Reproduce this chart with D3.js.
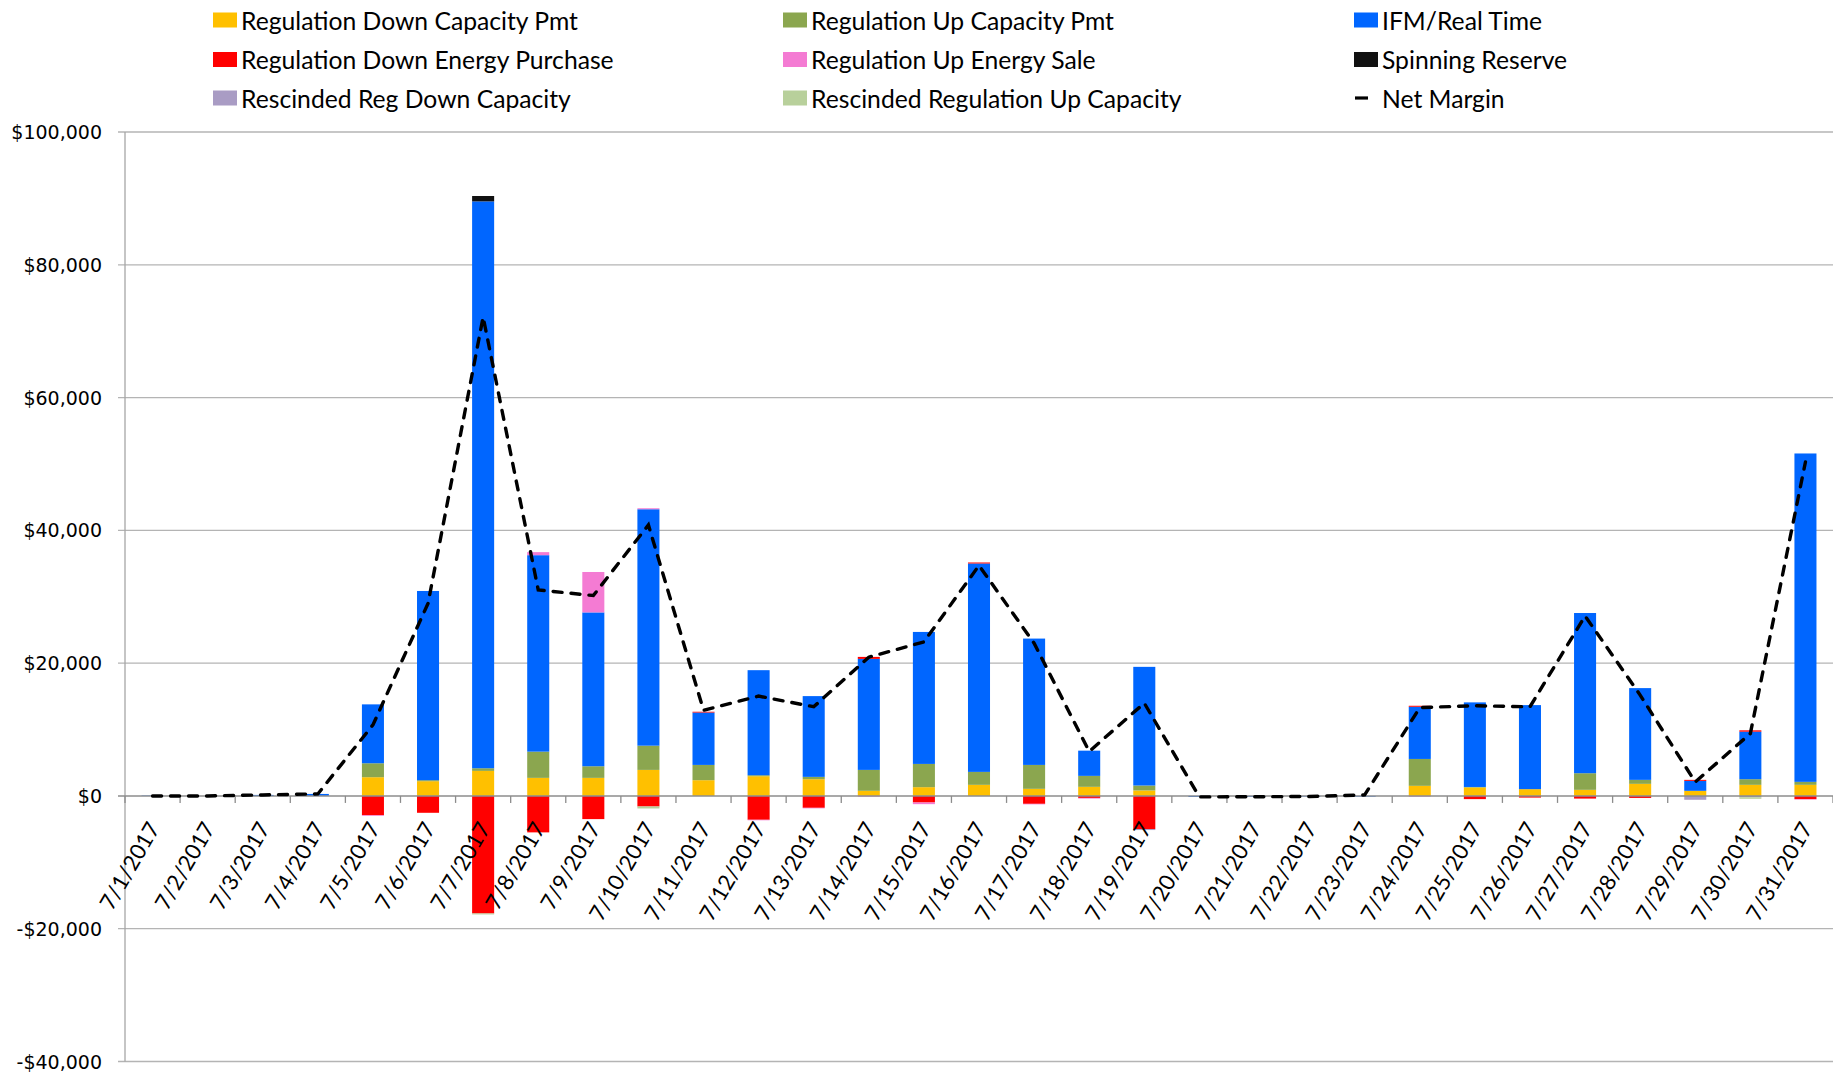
<!DOCTYPE html>
<html>
<head>
<meta charset="utf-8">
<script src="https://cdn.jsdelivr.net/npm/d3@7"></script>
<style>
  html, body { margin: 0; padding: 0; background: #ffffff; }
  svg { display: block; }
</style>
</head>
<body>
<script>
// Daily margin components for July 2017 (dollars)
const days = ["7/1/2017","7/2/2017","7/3/2017","7/4/2017","7/5/2017","7/6/2017","7/7/2017","7/8/2017",
  "7/9/2017","7/10/2017","7/11/2017","7/12/2017","7/13/2017","7/14/2017","7/15/2017","7/16/2017",
  "7/17/2017","7/18/2017","7/19/2017","7/20/2017","7/21/2017","7/22/2017","7/23/2017","7/24/2017",
  "7/25/2017","7/26/2017","7/27/2017","7/28/2017","7/29/2017","7/30/2017","7/31/2017"];

const regDownCapacity = [0, 0, 0, 0, 2820, 2220, 3770, 2720, 2720, 3920, 2370, 2970, 2520, 770, 1320, 1670,
  1070, 1370, 820, 0, 0, 0, 0, 1520, 1270, 1020, 920, 1820, 770, 1670, 1670];
const regUpCapacity = [0, 0, 0, 0, 2100, 150, 400, 3950, 1750, 3650, 2300, 150, 350, 3150, 3500, 1950,
  3600, 1650, 750, 0, 0, 0, 0, 4050, 80, 0, 2500, 600, 0, 850, 450];
const ifmRealTime = [60, 0, 150, 300, 8870, 28500, 85380, 29590, 23170, 35610, 7890, 15820, 12165, 16720, 19880, 31390,
  19030, 3800, 17870, -150, -120, -80, -100, 7860, 12740, 12660, 24130, 13820, 1500, 7160, 49460];
const regDownEnergy = [0, 0, 0, 0, -2900, -2540, -17700, -5490, -3490, -1590, 120, -3590, -1790, 300, -990, 150,
  -1190, -300, -4990, 0, 0, 0, 0, 150, -480, -250, -400, -300, 150, 200, -480];
const regUpEnergy = [0, 0, 0, 0, -100, 0, 0, 460, 6090, 150, 0, -80, -80, -100, -250, 0,
  -80, -100, 0, 0, 0, 0, 0, -100, 0, 0, 0, 0, 0, 0, -70];
const spinningReserve = [0, 0, 0, 0, 0, 0, 810, 0, 0, 0, 0, 0, 0, 0, 0, 0,
  0, 0, 0, 0, 0, 0, 0, 0, 0, 0, 0, 0, 0, 0, 0];
const rescindedRegDown = [0, 0, 0, 0, 0, 0, 0, 0, 0, 0, 0, 0, 0, 0, 0, 0,
  0, 0, -150, 0, 0, 0, 0, 0, 0, 0, 0, 0, -580, -200, 0];
const rescindedRegUp = [0, 0, 0, 0, 0, 0, -150, 0, 0, -300, 0, 0, 0, 0, 0, 0,
  0, 0, 0, 0, 0, 0, 0, 0, 0, 0, 0, 0, 0, -230, 0];
const netMargin = [0, 0, 150, 300, 10700, 29000, 72130, 31030, 30180, 40810, 12900, 15035, 13430, 20900, 23200, 34710,
  23000, 6700, 13980, -150, -120, -80, 150, 13300, 13580, 13430, 27100, 15190, 2100, 9400, 50300];

const yTicks = [-40000, -20000, 0, 20000, 40000, 60000, 80000, 100000];

const seriesNames = ["Regulation Down Capacity Pmt", "Regulation Up Capacity Pmt", "IFM/Real Time",
  "Regulation Down Energy Purchase", "Regulation Up Energy Sale", "Spinning Reserve",
  "Rescinded Reg Down Capacity", "Rescinded Regulation Up Capacity"];
const seriesValues = [regDownCapacity, regUpCapacity, ifmRealTime, regDownEnergy, regUpEnergy,
  spinningReserve, rescindedRegDown, rescindedRegUp];
const seriesColors = ["#FFC000", "#8BA64F", "#0066FF", "#FF0000", "#F47BD3", "#111111", "#A99CC4", "#B8D09B"];
const lineName = "Net Margin";

// Row table for the stack layout
const rows = days.map((d, i) => {
  const r = { day: d };
  seriesNames.forEach((n, k) => { r[n] = seriesValues[k][i]; });
  return r;
});

const W = 1833, H = 1074;
const plotLeft = 125, plotRight = 1833, plotTop = 132, plotBottom = 1061.5;

const svg = d3.select("body").append("svg").attr("width", W).attr("height", H);

const x = d3.scaleBand().domain(days).range([plotLeft, plotRight]).paddingInner(0.6).paddingOuter(0.3);
const y = d3.scaleLinear().domain([-40000, 100000]).range([plotBottom, plotTop]);
const fmt = v => (v < 0 ? "-$" : "$") + d3.format(",")(Math.abs(v));

// Horizontal gridlines with outside tick marks
const grid = svg.append("g");
grid.selectAll("line.grid").data(yTicks.filter(t => t !== 0)).join("line")
  .attr("class", "grid")
  .attr("x1", plotLeft - 7).attr("x2", plotRight)
  .attr("y1", d => y(d)).attr("y2", d => y(d))
  .attr("stroke", "#B4B4B4").attr("stroke-width", 1.3);

// Vertical value axis
svg.append("line")
  .attr("x1", plotLeft).attr("x2", plotLeft)
  .attr("y1", plotTop).attr("y2", plotBottom)
  .attr("stroke", "#A6A6A6").attr("stroke-width", 1.3);

// Value axis labels
svg.append("g").selectAll("text").data(yTicks).join("text")
  .attr("x", 102).attr("y", d => y(d))
  .attr("text-anchor", "end").attr("dominant-baseline", "central")
  .attr("font-family", "'DejaVu Sans', Verdana, sans-serif").attr("font-size", 19)
  .attr("fill", "#000")
  .text(fmt);

// Stacked bars: positives build up from zero, negatives build down
const stack = d3.stack().keys(seriesNames).offset(d3.stackOffsetDiverging);
const stacked = stack(rows);

svg.append("g").selectAll("g").data(stacked).join("g")
  .attr("fill", (d, i) => seriesColors[i])
  .selectAll("rect").data(d => d).join("rect")
  .attr("x", d => x(d.data.day))
  .attr("width", x.bandwidth())
  .attr("y", d => y(Math.max(d[0], d[1])))
  .attr("height", d => Math.abs(y(d[0]) - y(d[1])));

// Category axis at zero with ticks at band boundaries
const y0 = y(0);
svg.append("line")
  .attr("x1", plotLeft - 7).attr("x2", plotRight)
  .attr("y1", y0).attr("y2", y0)
  .attr("stroke", "#8C8C8C").attr("stroke-width", 1.5);

const step = x.step();
const tickXs = d3.range(days.length + 1).map(i => plotLeft + i * step);
svg.append("g").selectAll("line").data(tickXs).join("line")
  .attr("x1", d => d).attr("x2", d => d)
  .attr("y1", y0).attr("y2", y0 + 7)
  .attr("stroke", "#8C8C8C").attr("stroke-width", 1.3);

// Rotated date labels
svg.append("g").selectAll("text").data(days).join("text")
  .attr("transform", d => `translate(${x(d) + x.bandwidth() / 2 + 8},${y0 + 32}) rotate(-60)`)
  .attr("text-anchor", "end")
  .attr("font-family", "Lato, 'Open Sans', sans-serif").attr("font-size", 22)
  .attr("fill", "#000")
  .text(d => d);

// Net margin dashed line through band centres
const line = d3.line()
  .x((d, i) => x(days[i]) + x.bandwidth() / 2)
  .y(d => y(d));
svg.append("path")
  .datum(netMargin)
  .attr("d", line)
  .attr("fill", "none")
  .attr("stroke", "#000")
  .attr("stroke-width", 3.4)
  .attr("stroke-linecap", "round")
  .attr("stroke-dasharray", "9,9");

// Legend: three columns, row-major order
const legendItems = seriesNames.map((n, i) => ({ name: n, color: seriesColors[i], type: "rect" }))
  .concat([{ name: lineName, type: "line" }]);
const colX = [213, 783, 1354];
const rowY = [20, 59.5, 98];
const legend = svg.append("g").selectAll("g").data(legendItems).join("g")
  .attr("transform", (d, i) => `translate(${colX[i % 3]},${rowY[Math.floor(i / 3)]})`);

legend.filter(d => d.type === "rect").append("rect")
  .attr("x", 0).attr("y", -7.5).attr("width", 24).attr("height", 15)
  .attr("fill", d => d.color);
legend.filter(d => d.type === "line").append("line")
  .attr("x1", 1).attr("x2", 14).attr("y1", 0).attr("y2", 0)
  .attr("stroke", "#000").attr("stroke-width", 3.2);
legend.append("text")
  .attr("x", 28).attr("y", 0)
  .attr("dominant-baseline", "central")
  .attr("font-family", "Lato, 'Open Sans', sans-serif").attr("font-size", 24.7)
  .attr("fill", "#000")
  .text(d => d.name);
</script>
</body>
</html>
